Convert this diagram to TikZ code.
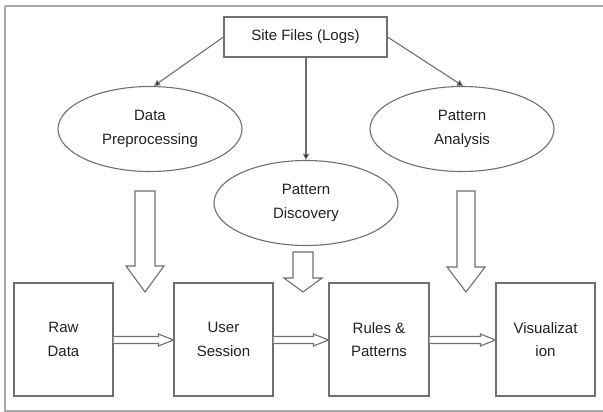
\documentclass[tikz,border=0pt]{standalone}
\usepackage{fontspec}
\setmainfont{Liberation Sans}
\usetikzlibrary{shapes.geometric,arrows.meta}
\definecolor{linec}{HTML}{707070}
\definecolor{framec}{HTML}{A8A8A8}
\definecolor{textc}{HTML}{222222}
\newcommand\hollowdown[6]{% cx, top, headstart, tip, shafthalf, headhalf
  \draw[hollow] (#1-#5,#2) -- (#1+#5,#2) -- (#1+#5,#3) -- (#1+#6,#3) -- (#1,#4)
    -- (#1-#6,#3) -- (#1-#5,#3) -- cycle;}
\begin{document}
\begin{tikzpicture}[x=1pt,y=-1pt,
  every node/.style={font=\fontsize{15}{23.5}\selectfont, text=textc, align=center},
  boxnode/.style={draw=linec, line width=1.1pt, fill=white, minimum width=99pt, minimum height=113pt, inner sep=0pt},
  topbox/.style={draw=linec, line width=1.1pt, fill=white, minimum width=163pt, minimum height=40pt, inner sep=0pt},
  ellnode/.style={ellipse, draw=linec, line width=1.1pt, fill=white, minimum width=184pt, minimum height=85pt, inner sep=0pt},
  thinarrow/.style={draw=linec, line width=1.1pt, -{Triangle[length=6pt,width=6pt,fill=black]}},
  hollow/.style={draw=linec, line width=1.1pt, fill=white, line join=miter}
]
\useasboundingbox (0,0) rectangle (603,412);
\fill[white] (0,0) rectangle (603,412);
\draw[framec, line width=1.3pt] (5,6) -- (606,6) (5,6) -- (5,411) -- (606,411);

\node[topbox] (site) at (305.5,37) {Site Files (Logs)};
\node[ellnode] (dp) at (150,129) {Data\\Preprocessing};
\node[ellnode] (pa) at (462,129) {Pattern\\Analysis};
\node[ellnode] (pd) at (306,203) {Pattern\\Discovery};

\draw[thinarrow] (site.west) -- ([xshift=4pt]dp.north);
\draw[thinarrow] (site.east) -- ([xshift=1pt]pa.north);
\draw[thinarrow] (site.south -| pd.north) -- (pd.north);

\node[boxnode] (raw) at (63.5,339.5) {Raw\\Data};
\node[boxnode] (user) at (223.5,339.5) {User\\Session};
\node[boxnode, minimum width=100pt] (rules) at (379,339.5) {Rules \&\\Patterns};
\node[boxnode] (vis) at (545.5,339.5) {Visualizat\\ion};

\hollowdown{145}{191}{266}{292}{10}{19}
\hollowdown{303}{252}{278}{292}{10}{19}
\hollowdown{466}{191}{267}{292}{9}{19}

\foreach \a/\b in {raw/user, user/rules, rules/vis}{
  \draw[hollow] ([yshift=-4pt]\a.east) -- ([xshift=-15pt,yshift=-4pt]\b.west)
    -- ([xshift=-15pt,yshift=-6.5pt]\b.west) -- ([yshift=-0.5pt]\b.west)
    -- ([xshift=-15pt,yshift=5.5pt]\b.west) -- ([xshift=-15pt,yshift=3pt]\b.west)
    -- ([yshift=3pt]\a.east);
}
\end{tikzpicture}
\end{document}
